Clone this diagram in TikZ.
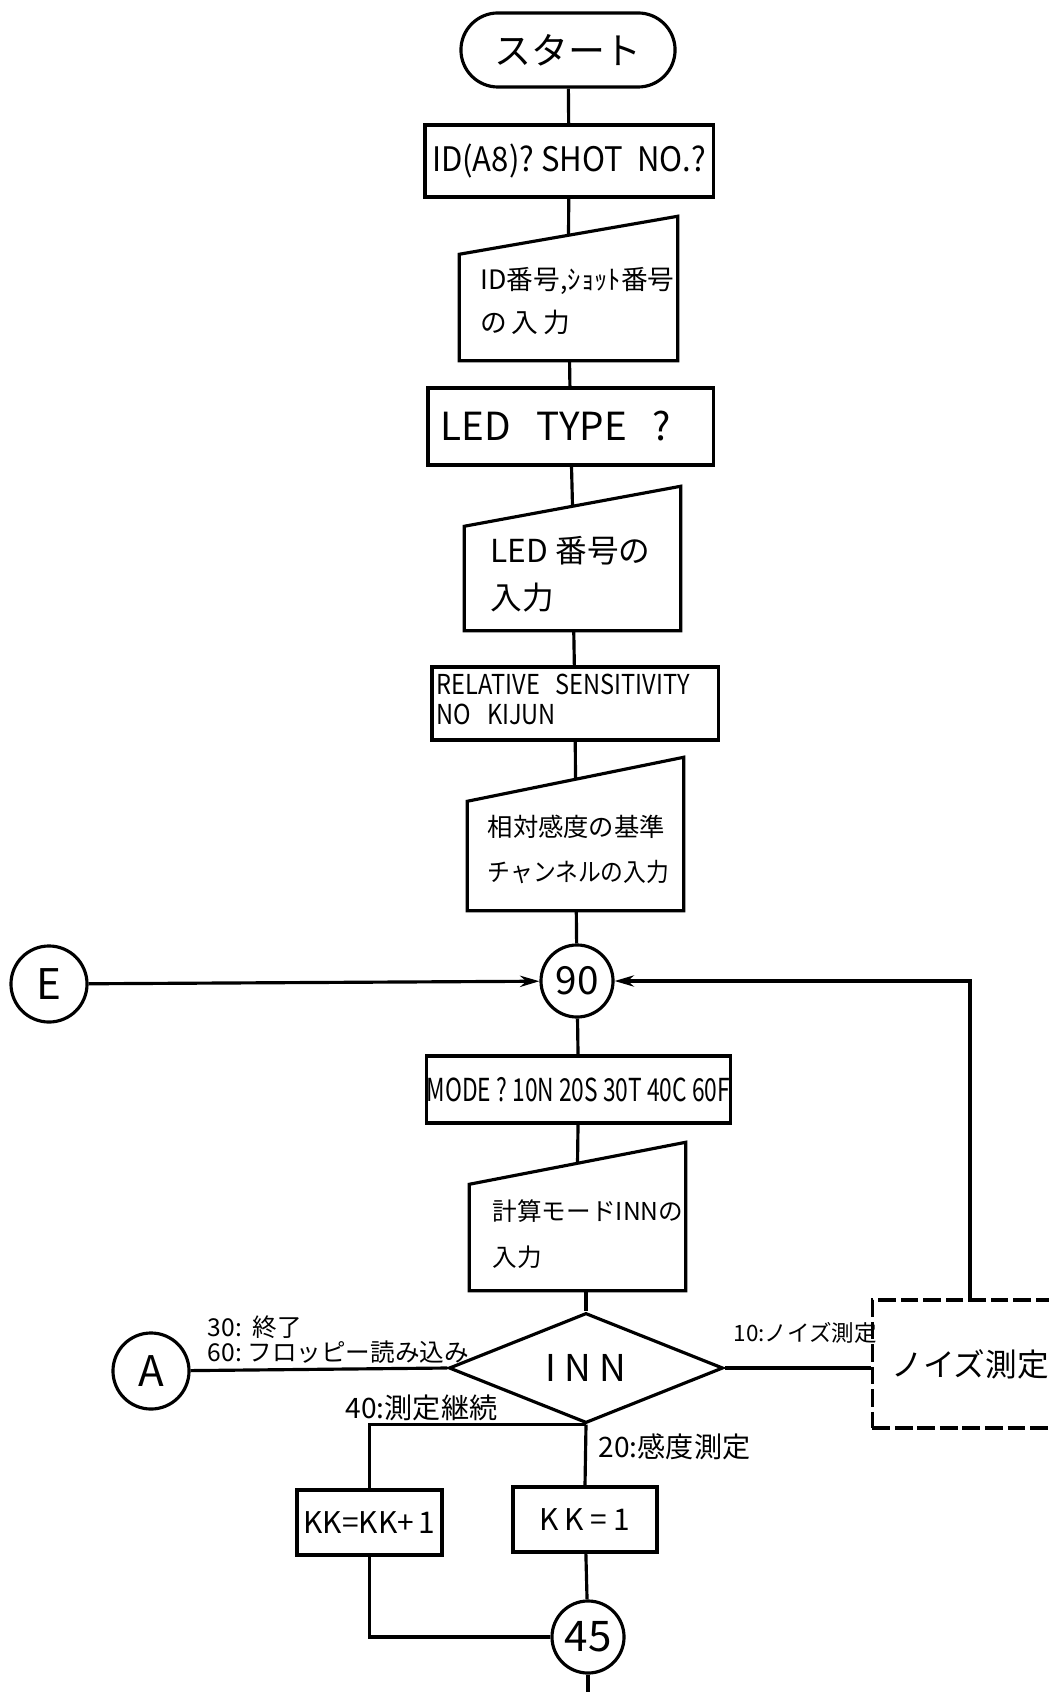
\documentclass[tikz,border=0pt]{standalone}
\usepackage{fontspec}
\setmainfont{Noto Sans CJK JP}
\usepackage{graphicx}
\usepackage{tikz}
\usetikzlibrary{arrows.meta,positioning,calc,shapes.geometric,shapes.misc}
\tikzset{
  ln/.style={line width=0.9pt, draw=black},
  blk/.style={ln, rectangle, align=left, inner sep=0pt},
  term/.style={ln, rounded rectangle, inner sep=0pt},
  conn/.style={ln, circle, inner sep=0pt, minimum size=0.72cm},
  frm/.style={rectangle, inner sep=0pt},
  txt/.style={align=left, inner sep=0pt, anchor=west},
  dec/.style={ln, diamond, inner sep=0pt},
  nbox/.style={ln, dash pattern=on 5pt off 1.4pt, rectangle, inner sep=0pt},
  arr/.style={ln, -{Stealth[length=5.5pt, width=3.2pt]}},
  lbl/.style={inner sep=0pt, anchor=west},
}

\begin{document}
\begin{tikzpicture}[x=0.01cm, y=-0.01cm]
  \useasboundingbox (0,0) rectangle (1048,1692);
  % main column
  \node[term, minimum width=2.14cm, minimum height=0.74cm, font=\fontsize{10.5}{12}\selectfont] (start) at (568,50) {スタート};
  \node[blk, minimum width=2.88cm, minimum height=0.72cm, font=\fontsize{9.6}{11}\selectfont] (box1) at (569,161) {\scalebox{0.92}[1]{ID(A8)?\ SHOT\ \ NO.?}};
  \node[frm, minimum width=2.17cm, minimum height=1.43cm] (in1) at (568.5,288.5) {};
  \node[txt, font=\fontsize{7.6}{12.2}\selectfont] (in1t) at (480,301) {ID番号,ｼｮｯﾄ番号\\の\,入\,力};
  \node[blk, text width=2.6cm, inner xsep=0.125cm, minimum height=0.77cm, font=\fontsize{11}{13}\selectfont] (led) at (570.5,426.5) {LED\ \ TYPE\ \ ?};
  \node[frm, minimum width=2.15cm, minimum height=1.43cm] (in2) at (572.5,558.5) {};
  \node[txt, font=\fontsize{9}{13.4}\selectfont] (in2t) at (490,574.5) {LED 番号の\\入力};
  \node[blk, text width=2.76cm, inner xsep=0.05cm, minimum height=0.73cm, font=\fontsize{7.8}{8.4}\selectfont] (rel) at (575,703.5)
    {\raisebox{-2pt}{\scalebox{0.86}[1]{\begin{tabular}{@{}l@{}}RELATIVE\ \ SENSITIVITY\\NO\ \ KIJUN\end{tabular}}}};
  \node[frm, minimum width=2.15cm, minimum height=1.52cm] (in3) at (575.5,834) {};
  \node[txt, font=\fontsize{7.2}{12.8}\selectfont] (in3t) at (487,849.5) {相対感度の基準\\\scalebox{0.9}[1]{チャンネルの入力}};
  \node[conn, font=\fontsize{11}{12}\selectfont] (n90) at (577,981) {90};
  \node[conn, minimum size=0.76cm, font=\fontsize{12}{13}\selectfont] (E) at (49,984) {E};
  \node[blk, minimum width=2.87cm, minimum height=0.67cm, font=\fontsize{9}{10}\selectfont] (mode) at (578.5,1089.5) {\scalebox{0.72}[1]{MODE ? 10N 20S 30T 40C 60F}};
  \node[frm, minimum width=2.15cm, minimum height=1.47cm] (in4) at (577.5,1216.5) {};
  \node[txt, font=\fontsize{7}{13}\selectfont] (in4t) at (492,1234) {計算モードINNの\\入力};
  \node[dec, minimum width=2.74cm, minimum height=1.10cm, font=\fontsize{10.5}{12}\selectfont] (dia) at (586,1368) {I N N};
  \node[conn, minimum size=0.76cm, font=\fontsize{12}{13}\selectfont] (A) at (151,1371) {A};
  \node[nbox, minimum width=1.95cm, minimum height=1.28cm, font=\fontsize{9}{10}\selectfont] (noise) at (970,1364) {ノイズ測定};
  \node[blk, minimum width=1.45cm, minimum height=0.65cm, font=\fontsize{8.5}{10}\selectfont] (kk2) at (369.5,1522.5) {KK=KK+\,1};
  \node[blk, minimum width=1.44cm, minimum height=0.65cm, font=\fontsize{8.5}{10}\selectfont] (kk1) at (585,1519.5) {K\,K\ =\ 1};
  \node[conn, font=\fontsize{12}{13}\selectfont] (n45) at (588,1637) {45};
  \coordinate (tail) at (588,1700);
  % manual input outlines
  \foreach \n/\s in {in1/0.38cm,in2/0.40cm,in3/0.44cm,in4/0.42cm}{
    \draw[ln] (\n.south west) -- (\n.south east) -- (\n.north east) -- ([yshift=-\s]\n.north west) -- cycle;
    \coordinate (\n-top) at ($(\n.north east)!0.5!([yshift=-\s]\n.north west)$);
  }
  % branch labels
  \node[lbl, font=\fontsize{7}{8}\selectfont] (l30) at (207,1327) {30:\ \ 終了};
  \node[lbl, font=\fontsize{7}{8}\selectfont] (l60) at (207,1352) {60:\ フロッピー読み込み};
  \node[lbl, font=\fontsize{8}{9}\selectfont] (l40) at (345,1408) {40:測定継続};
  \node[lbl, font=\fontsize{8}{9}\selectfont] (l20) at (598,1447) {20:感度測定};
  \node[lbl, font=\fontsize{6.4}{7}\selectfont] (l10) at (733,1333) {10:ノイズ測定};
  % connectors
  \draw[ln] (start) -- (box1);
  \draw[ln] (box1) -- (in1-top);
  \draw[ln] (in1) -- (led);
  \draw[ln] (led) -- (in2-top);
  \draw[ln] (in2) -- (rel);
  \draw[ln] (rel) -- (in3-top);
  \draw[ln] (in3) -- (n90);
  \draw[ln] (n90) -- (mode);
  \draw[ln] (mode) -- (in4-top);
  \draw[ln] (in4.south -| dia.north) -- (dia.north);
  \draw[ln] (A) -- (dia.west);
  \draw[ln] (dia.east) -- (dia.east -| noise.west);
  \draw[ln] (dia.south) -- (kk1.north);
  \draw[ln] (dia.south) -| (kk2.north);
  \draw[ln] (kk1) -- (n45);
  \draw[ln] (kk2.south) |- (n45);
  \draw[ln] (n45) -- (tail);
  \draw[arr] (E) -- (n90);
  \draw[arr] (noise.north) |- (n90);
\end{tikzpicture}
\end{document}
